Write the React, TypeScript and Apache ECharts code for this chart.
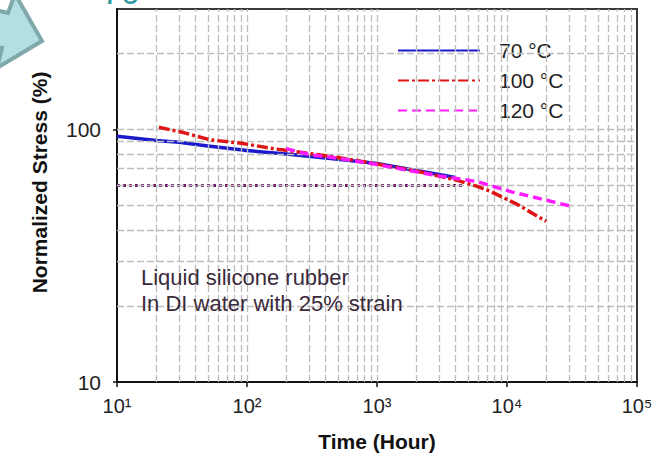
import React, { useEffect, useRef } from 'react';
import * as echarts from 'echarts';

// ---- data ----
const time70 = [10, 20, 30, 50, 100, 200, 500, 1000, 2000, 3000, 4000];
const stress70 = [94, 90.5, 89, 86, 82.5, 80, 76.3, 73.3, 68.8, 66.3, 64.5];

const time100 = [21, 33, 52, 93, 158, 256, 500, 1000, 2000, 4100, 5900, 7400, 12000, 20000];
const stress100 = [102, 97, 91, 88, 84, 81.3, 77.5, 73, 68.5, 63, 59.5, 57, 50.5, 43.3];

const time120 = [200, 300, 500, 1000, 2000, 3000, 5900, 11000, 20000, 32000];
const stress120 = [84, 79.5, 77, 72.6, 68, 65.5, 62.2, 56.5, 52.5, 49.5];

const thresholdTime = [10, 4700];
const thresholdStress = [60, 60];

const seriesNames = ['70 °C', '100 °C', '120 °C'];
const yTickLabels = [10, 100];
const thresholdLabel = '60';
const xDecades = [10, 100, 1000, 10000];
const gridMultipliers = [1, 2, 3, 4, 5, 6, 7, 8, 9];
const yGridValues = [20, 30, 40, 50, 60, 70, 80, 90, 100, 200];
const annotationLines = ['Liquid silicone rubber', 'In DI water with 25% strain'];

const FONT = '"Liberation Sans", Arial, sans-serif';
const SUP: Record<number, string> = { 1: '¹', 2: '²', 3: '³', 4: '⁴', 5: '⁵' };

const pairs = (xs: number[], ys: number[]) => xs.map((x, i) => [x, ys[i]]);

const xGridValues = xDecades
  .flatMap((d) => gridMultipliers.map((m) => d * m))
  .filter((v) => v > 10 && v < 100000);

const gridLineStyle = { type: [7, 3] as any, color: '#bdbdbd', width: 1.3 };

const option: any = {
  animation: false,
  backgroundColor: '#ffffff',
  textStyle: { fontFamily: FONT },
  grid: {
    left: 117,
    top: 9,
    right: 27,
    bottom: 80,
    show: true,
    borderColor: '#3a3a3a',
    borderWidth: 2,
    backgroundColor: 'transparent',
  },
  legend: {
    data: seriesNames,
    orient: 'vertical',
    left: 397,
    top: 40,
    padding: 0,
    itemWidth: 82,
    itemHeight: 14,
    itemGap: 9,
    itemStyle: { color: 'transparent', borderWidth: 0, opacity: 0 },
    textStyle: { fontSize: 21, color: '#222', fontFamily: FONT, padding: [0, 0, 0, 14] },
  },
  xAxis: {
    type: 'log',
    logBase: 10,
    min: 10,
    max: 100000,
    axisLine: { show: true, onZero: false, lineStyle: { color: '#111', width: 2 } },
    axisTick: { show: true, length: 5, lineStyle: { color: '#111', width: 1.5 } },
    axisLabel: {
      fontSize: 20,
      color: '#222',
      fontFamily: FONT,
      margin: 14,
      formatter: (v: number) => '10' + (SUP[Math.round(Math.log10(v))] || ''),
    },
    splitLine: { show: false },
    name: 'Time (Hour)',
    nameLocation: 'middle',
    nameGap: 49,
    nameTextStyle: { fontSize: 21, fontWeight: 'bold', color: '#111', fontFamily: FONT },
  },
  yAxis: {
    type: 'log',
    logBase: 10,
    min: 10,
    max: 300,
    axisLine: { show: true, onZero: false, lineStyle: { color: '#111', width: 2 } },
    axisTick: { show: true, length: 4, lineStyle: { color: '#111', width: 1.5 } },
    axisLabel: {
      fontSize: 21,
      color: '#222',
      fontFamily: FONT,
      margin: 16,
      showMaxLabel: false,
      formatter: (v: number) => {
        const r = Math.round(v);
        return yTickLabels.includes(r) ? String(r) : '';
      },
    },
    splitLine: { show: false },
    name: 'Normalized Stress (%)',
    nameLocation: 'middle',
    nameGap: 67,
    nameTextStyle: {
      fontSize: 21,
      fontWeight: 'bold',
      color: '#111',
      fontFamily: FONT,
      padding: [0, 0, 0, 26],
    },
  },
  series: [
    {
      name: 'grid',
      type: 'line',
      data: [],
      z: 1,
      silent: true,
      markLine: {
        silent: true,
        symbol: ['none', 'none'],
        label: { show: false },
        lineStyle: gridLineStyle,
        emphasis: { disabled: true },
        data: [
          ...xGridValues.map((v) => ({ xAxis: v })),
          ...yGridValues.map((v) => ({ yAxis: v })),
        ],
      },
    },
    {
      name: 'threshold',
      type: 'line',
      z: 3,
      showSymbol: false,
      symbol: 'none',
      lineStyle: { color: '#6e1a66', width: 3, type: [3, 3] },
      data: pairs(thresholdTime, thresholdStress).map((p, i) =>
        i === 0
          ? {
              value: p,
              label: {
                show: true,
                position: 'left',
                distance: 4,
                formatter: thresholdLabel,
                fontSize: 21,
                color: '#222',
                fontFamily: FONT,
              },
            }
          : { value: p }
      ),
    },
    {
      name: seriesNames[0],
      type: 'line',
      z: 4,
      symbol: 'none',
      showSymbol: false,
      color: '#1a1acc',
      lineStyle: { color: '#1a1acc', width: 3.5, type: 'solid' },
      data: pairs(time70, stress70),
    },
    {
      name: seriesNames[1],
      type: 'line',
      z: 5,
      symbol: 'none',
      showSymbol: false,
      color: '#e01515',
      lineStyle: { color: '#e01515', width: 3.5, type: [11, 3, 3, 3] },
      data: pairs(time100, stress100),
    },
    {
      name: seriesNames[2],
      type: 'line',
      z: 6,
      symbol: 'none',
      showSymbol: false,
      color: '#ff1aff',
      lineStyle: { color: '#ff1aff', width: 3.5, type: [9, 5] },
      data: pairs(time120, stress120),
    },
  ],
  graphic: [
    {
      type: 'polygon',
      z: 10,
      shape: {
        points: [
          [-30, 4],
          [8, 13],
          [15, -6],
          [42, 41],
          [-3, 68],
          [2, 48],
          [-30, 40],
        ],
      },
      style: { fill: '#b3dfe2', stroke: '#7fa8aa', lineWidth: 4 },
    },
    {
      type: 'text',
      z: 10,
      x: 102,
      y: -8,
      style: {
        text: '70',
        fontSize: 34,
        fontFamily: FONT,
        fill: '#2c9ba0',
        verticalAlign: 'middle',
      },
    },
    {
      type: 'text',
      z: 10,
      x: 141,
      y: 264,
      style: {
        text: annotationLines.join('\n'),
        fontSize: 22,
        lineHeight: 26,
        fontFamily: FONT,
        fill: '#3a2a3a',
      },
    },
  ],
};

export default function App() {
  const ref = useRef<HTMLDivElement>(null);
  useEffect(() => {
    const chart = echarts.init(ref.current!, null, { renderer: 'svg' });
    chart.setOption(option);
    return () => chart.dispose();
  }, []);
  return (
    <div
      ref={ref}
      style={{ position: 'fixed', left: 0, top: 0, width: 664, height: 462 }}
    />
  );
}
